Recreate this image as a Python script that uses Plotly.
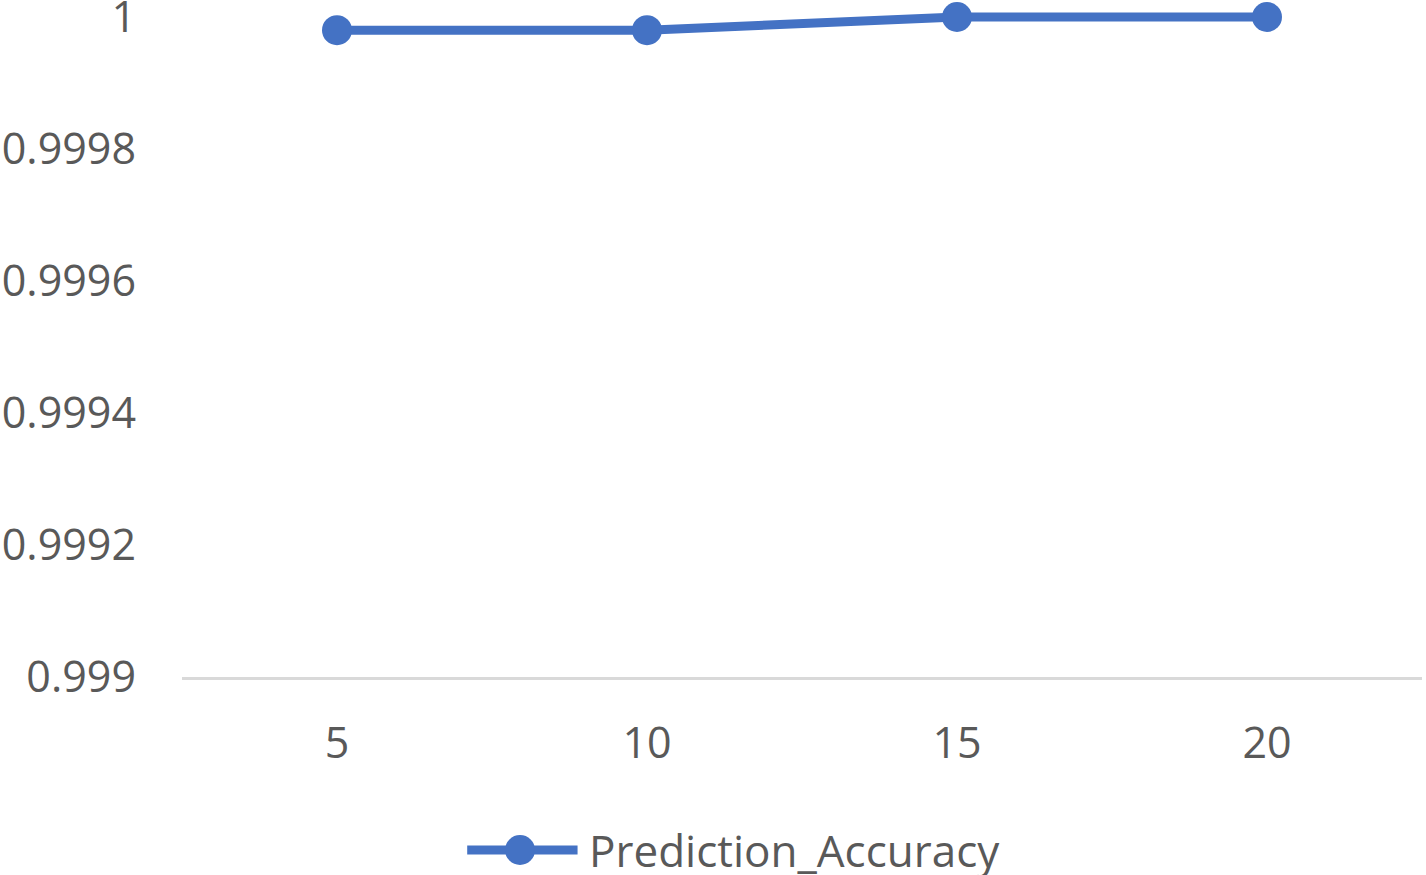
import plotly.graph_objects as go

categories = ["5", "10", "15", "20"]
accuracy = [0.99998, 0.99998, 1.0, 1.0]
y_ticks = [0.999, 0.9992, 0.9994, 0.9996, 0.9998, 1.0]
y_tick_text = ["0.999", "0.9992", "0.9994", "0.9996", "0.9998", "1"]
series_name = "Prediction_Accuracy"

blue = "#4472C4"
grey_text = "#595959"

fig = go.Figure()
fig.add_trace(go.Scatter(
    x=categories, y=accuracy, name=series_name,
    mode="lines+markers",
    line=dict(color=blue, width=9),
    marker=dict(color=blue, size=30),
    cliponaxis=False,
    showlegend=False,
))

# plot area is 670px tall; the top 10px sit above the value 1 so the line isn't clipped
y_top = 1.0 + 0.001 * 10 / 660

# legend drawn by hand so the marker can be as big as in the plot
leg_y = -173 / 670
fig.add_shape(type="line", xref="paper", yref="paper",
              x0=0.230, x1=0.319, y0=leg_y, y1=leg_y,
              line=dict(color=blue, width=9))
fig.add_shape(type="circle", xref="paper", yref="paper",
              xsizemode="pixel", ysizemode="pixel",
              xanchor=0.2726, yanchor=leg_y,
              x0=-15, x1=15, y0=-15, y1=15,
              fillcolor=blue, line=dict(color=blue, width=0))
fig.add_annotation(text=series_name, xref="paper", yref="paper",
                   x=0.3266, y=leg_y, xanchor="left", yanchor="middle",
                   showarrow=False, font=dict(size=44, color=grey_text))

fig.update_layout(
    width=1426, height=875,
    margin=dict(l=182, r=4, t=7, b=198),
    plot_bgcolor="white", paper_bgcolor="white",
    font=dict(family="Open Sans, Noto Sans, sans-serif", size=43, color=grey_text),
    xaxis=dict(type="category", range=[-0.5, 3.5], showgrid=False,
               showline=True, linecolor="#D9D9D9", linewidth=3,
               ticks="", ticklabelstandoff=26, automargin=False),
    yaxis=dict(range=[0.999, y_top], tickvals=y_ticks, ticktext=y_tick_text,
               showgrid=False, zeroline=False, showline=False,
               ticks="", ticklabelstandoff=45, automargin=False,
               ticklabeloverflow="allow"),
)

# drop the default 8px body margin so the figure fills the window
fig.write_html("out.html", config={"displayModeBar": False},
               post_script="document.body.style.margin='0';")
